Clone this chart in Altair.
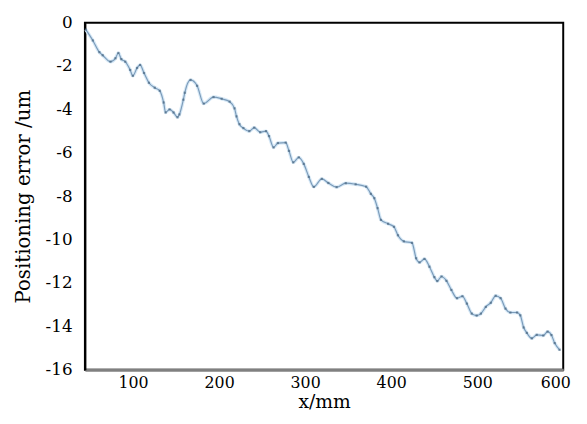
import altair as alt
import pandas as pd

x_mm = [45.1, 53.2, 60.8, 64.6, 73.7, 79.5, 82.9, 86.3, 90.9, 96.6, 99.7, 104.6, 108.1, 112.7,
        118.4, 125.2, 131.0, 135.5, 137.8, 142.4, 147.0, 151.6, 153.8, 158.4, 160.1, 166.8,
        174.4, 182.1, 193.5, 203.0, 212.2, 217.9, 220.2, 223.6, 228.2, 235.1, 240.8, 247.7,
        254.5, 258.0, 263.3, 268.3, 277.4, 281.2, 286.2, 292.6, 298.4, 304.3, 310.0, 319.4,
        327.0, 336.6, 347.2, 358.7, 370.9, 376.4, 380.4, 384.2, 388.1, 396.4, 403.3, 407.9,
        414.7, 424.2, 429.0, 433.0, 438.7, 444.5, 450.2, 453.6, 458.5, 464.3, 470.0, 476.5,
        482.8, 488.0, 493.7, 499.4, 504.3, 510.0, 515.8, 521.5, 527.2, 532.9, 538.6, 546.3,
        550.1, 554.0, 557.7, 563.5, 569.2, 576.8, 581.8, 586.3, 590.1, 595.8]
err_um = [-0.32, -0.82, -1.36, -1.50, -1.80, -1.64, -1.40, -1.68, -1.80, -2.18, -2.45, -2.09,
          -1.95, -2.32, -2.77, -3.00, -3.14, -3.68, -4.14, -4.00, -4.14, -4.36, -4.23, -3.55,
          -3.23, -2.64, -2.91, -3.73, -3.43, -3.51, -3.64, -3.95, -4.32, -4.68, -4.86, -5.00,
          -4.84, -5.05, -5.00, -5.23, -5.75, -5.55, -5.53, -5.91, -6.44, -6.21, -6.51, -7.11,
          -7.57, -7.20, -7.39, -7.58, -7.40, -7.45, -7.56, -7.89, -8.09, -8.55, -9.09, -9.27,
          -9.41, -9.80, -10.08, -10.15, -10.86, -11.05, -10.89, -11.25, -11.73, -11.91, -11.70,
          -11.90, -12.32, -12.70, -12.61, -12.95, -13.41, -13.50, -13.41, -13.10, -12.91,
          -12.59, -12.70, -13.18, -13.36, -13.36, -13.49, -14.05, -14.30, -14.55, -14.39,
          -14.42, -14.24, -14.40, -14.77, -15.08]

x_ticks = [100, 200, 300, 400, 500, 600]
y_ticks = [-16, -14, -12, -10, -8, -6, -4, -2, 0]

df = pd.DataFrame({"x": x_mm, "y": err_um})

FONT = "DejaVu Serif"

xenc = alt.X("x:Q", scale=alt.Scale(domain=[44, 600], nice=False, zero=False),
             axis=alt.Axis(values=x_ticks, title="x/mm", ticks=False, grid=False,
                           domainColor="#808080", domainWidth=3,
                           labelFontSize=16, labelColor="black",
                           labelOffset={"condition": {"test": "datum.value == 600", "value": -8}, "value": 0},
                           labelPadding=5, titleFontSize=19,
                           titleFontWeight="normal", titleColor="black", titlePadding=2,
                           labelFlush=False))
yenc = alt.Y("y:Q", scale=alt.Scale(domain=[-16, 0], nice=False, zero=False),
             axis=alt.Axis(values=y_ticks, title="Positioning error /um", ticks=False, grid=False,
                           domainColor="black", domainWidth=2,
                           labelExpr="datum.value + ''",
                           labelFontSize=17, labelColor="black",
                           labelPadding=13, titleFontSize=20,
                           titleFontWeight="normal", titleColor="black", titlePadding=12))

base = alt.Chart(df)
halo = base.mark_line(color="#d6e8f6", strokeWidth=3.5, interpolate="monotone").encode(x=xenc, y=yenc)
core = base.mark_line(color="#7c9cba", strokeWidth=1.2, interpolate="monotone").encode(x=xenc, y=yenc)
pts = base.mark_point(shape="square", filled=True, size=5, color="#4a6680", opacity=0.7).encode(x=xenc, y=yenc)

chart = (halo + core + pts).properties(
    width=485, height=352,
    autosize=alt.AutoSizeParams(type="none"),
    padding={"left": 78, "top": 12, "right": 16, "bottom": 44},
).configure(font=FONT).configure_axis(
    labelFont=FONT, titleFont=FONT
).configure_view(stroke="black", strokeWidth=2)

chart.save("out.html", embed_options={"renderer": "svg", "actions": False})
